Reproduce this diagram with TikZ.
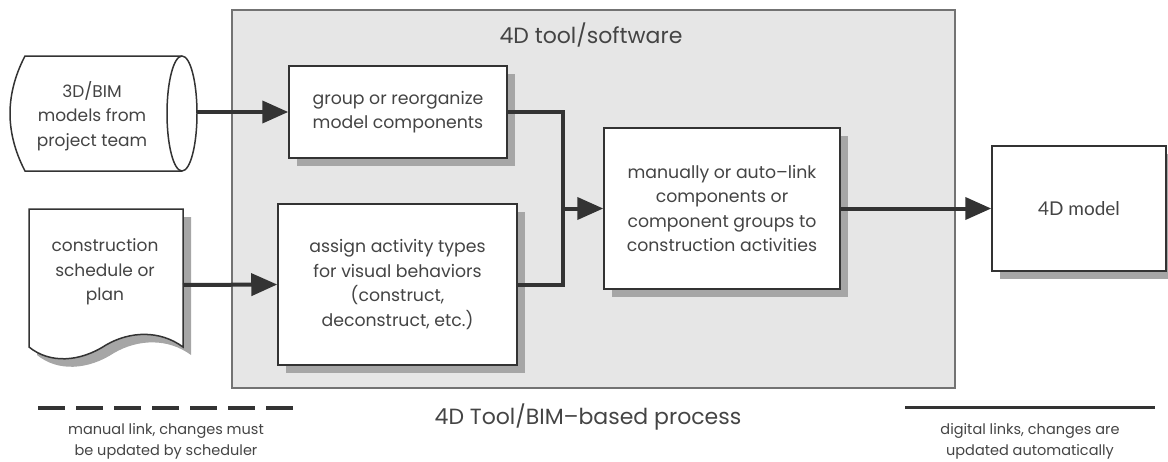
\documentclass[tikz,border=0pt]{standalone}
\usepackage{fontspec}
\setmainfont{Poppins}
\newfontfamily\modelfont{Lato}
\usetikzlibrary{arrows.meta,shadows,calc}
\definecolor{inkgrey}{HTML}{333333}
\definecolor{textgrey}{HTML}{444444}
\definecolor{panelgrey}{HTML}{E6E6E6}
\tikzset{
  boxshadow/.style={drop shadow={shadow xshift=8pt,shadow yshift=-8pt,fill=black!35,opacity=1}},
  procbox/.style={draw=inkgrey,line width=1.5pt,fill=white,align=center,inner sep=0pt,
    text=textgrey,font=\fontsize{17.3}{24.5}\selectfont,boxshadow},
  plaintxt/.style={align=center,inner sep=0pt,text=textgrey,font=\fontsize{17}{24.5}\selectfont},
  headtxt/.style={plaintxt,font=\fontsize{22}{26}\selectfont},
  captxt/.style={align=center,inner sep=0pt,text=textgrey,font=\fontsize{14.5}{21}\selectfont},
  flow/.style={draw=inkgrey,line width=4pt},
  flowarrow/.style={flow,-{Triangle[length=26pt,width=22pt]}},
}
\begin{document}
\begin{tikzpicture}[x=1pt,y=-1pt]
\useasboundingbox (0,0) rectangle (1168,461);
% tool panel
\draw[draw=black!55,line width=1.5pt,fill=panelgrey] (232,10) rectangle (955,388);
\node[headtxt] (tooltitle) at (591,35) {4D tool/software};

% models (cylinder)
\draw[draw=inkgrey,line width=1.5pt,fill=white]
  (25,56) -- (182,56) .. controls (190.3,56) and (197,81.7) .. (197,113.5)
  .. controls (197,145.3) and (190.3,171) .. (182,171) -- (25,171)
  .. controls (14,150) and (10,130) .. (10,113.5)
  .. controls (10,97) and (14,77) .. (25,56) -- cycle;
\draw[draw=inkgrey,line width=1.5pt] (182,56) .. controls (173.7,56) and (167,81.7) .. (167,113.5)
  .. controls (167,145.3) and (173.7,171) .. (182,171);
\node[plaintxt] (models) at (92,116) {3D/BIM\\models from\\project team};
\coordinate (modelsout) at (197,112);

% schedule (document)
\draw[draw=inkgrey,line width=1.5pt,fill=white,boxshadow]
  (29,209) -- (183,209) -- (183,347)
  .. controls (160,330) and (130,331) .. (106,345)
  .. controls (80,362) and (50,364) .. (29,347) -- cycle;
\node[plaintxt] (schedule) at (105,272) {construction\\schedule or\\plan};
\coordinate (scheduleout) at (183,285);

% process boxes
\node[procbox,minimum width=218pt,minimum height=92pt] (group) at (398,112)
  {group or reorganize\\model components};
\node[procbox,minimum width=239pt,minimum height=161pt] (assign) at (397.5,284.5)
  {assign activity types\\for visual behaviors\\(construct,\\deconstruct, etc.)};
\node[procbox,minimum width=236pt,minimum height=161pt] (link) at (722,208.5)
  {manually or auto--link\\components or\\component groups to\\construction activities};
\node[procbox,minimum width=174pt,minimum height=125pt,font=\modelfont\fontsize{19}{24}\selectfont] (model) at (1079,208.5)
  {4D model};

% connectors
\coordinate (junc) at (563,208.5);
\draw[flowarrow] (modelsout) -- (group.west);
\draw[flowarrow] (scheduleout) -- (assign.west);
\draw[flow] (group.east) -| (junc);
\draw[flow] (assign.east) -| (junc);
\draw[flowarrow] (junc) -- (link.west);
\draw[flowarrow] (link.east) -- (model.west);

% legend
\coordinate (manA) at (38,408);
\coordinate (manB) at (295,408);
\coordinate (digA) at (905,407);
\coordinate (digB) at (1155,407);
\draw[draw=inkgrey,line width=4pt,dash pattern=on 27pt off 11pt] (manA) -- (manB);
\draw[draw=inkgrey,line width=3pt] (digA) -- (digB);
\node[captxt] (manlabel) at (166,441) {manual link, changes must\\be updated by scheduler};
\node[captxt] (diglabel) at (1030,441) {digital links, changes are\\updated automatically};
\node[headtxt] (process) at (588,417) {4D Tool/BIM--based process};
\end{tikzpicture}
\end{document}
